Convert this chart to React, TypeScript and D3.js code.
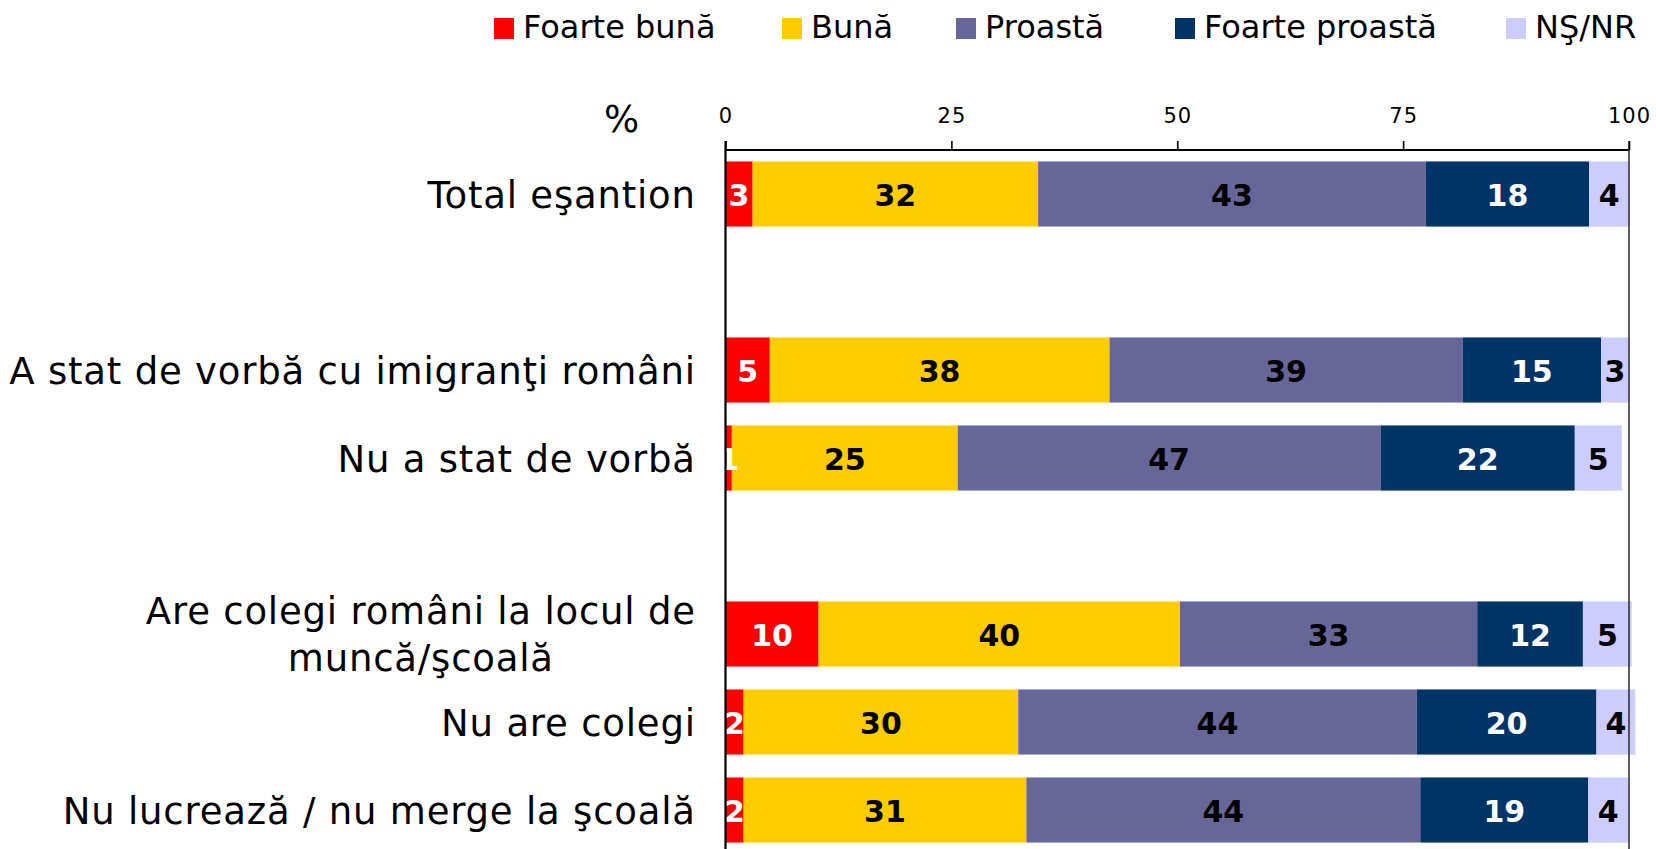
import React, { useEffect, useRef } from "react";
import * as d3 from "d3";

const slotKeys = ["total", "gap1", "stat", "nustat", "gap2", "colegi", "nucolegi", "nulucreaza"];
const rowKeys = ["total", "stat", "nustat", "colegi", "nucolegi", "nulucreaza"];
const rowLabels: string[][] = [
  ["Total eşantion"],
  ["A stat de vorbă cu imigranţi români"],
  ["Nu a stat de vorbă"],
  ["Are colegi români la locul de", "muncă/şcoală"],
  ["Nu are colegi"],
  ["Nu lucrează / nu merge la şcoală"],
];

const seriesNames = ["Foarte bună", "Bună", "Proastă", "Foarte proastă", "NŞ/NR"];
const seriesColors = ["#FF0000", "#FFCC00", "#666699", "#003366", "#CCCCFF"];
const labelColors = ["#FFFFFF", "#000000", "#000000", "#FFFFFF", "#000000"];

const foarteBuna = [3.0, 4.9, 0.7, 10.3, 2.0, 2.0];
const buna = [31.6, 37.6, 25.0, 40.0, 30.4, 31.3];
const proasta = [42.9, 39.1, 46.8, 32.9, 44.1, 43.6];
const foarteProasta = [18.1, 15.3, 21.5, 11.7, 19.9, 18.6];
const nsnr = [4.4, 3.1, 5.2, 5.4, 4.3, 4.4];

const tickValues = [0, 25, 50, 75, 100];

const W = 1656;
const H = 849;
const FONT = "'DejaVu Sans', Verdana, sans-serif";
const LS = 0.8;

export default function App() {
  const ref = useRef<SVGSVGElement | null>(null);

  useEffect(() => {
    const svg = d3.select(ref.current);
    svg.selectAll("*").remove();

    const seriesValues = [foarteBuna, buna, proasta, foarteProasta, nsnr];
    const table = rowKeys.map((k, i) => {
      const o: any = { key: k };
      seriesNames.forEach((s, j) => (o[s] = seriesValues[j][i]));
      return o;
    });
    const stacked = d3.stack<any>().keys(seriesNames)(table);

    const x = d3.scaleLinear().domain([0, 100]).range([725.5, 1629]);
    const y = d3
      .scaleBand<string>()
      .domain(slotKeys)
      .range([150, 854])
      .paddingInner(0.26)
      .paddingOuter(0.13);
    const bw = y.bandwidth();

    // bars
    stacked.forEach((layer, j) => {
      const g = svg.append("g");
      g.selectAll("rect")
        .data(layer)
        .join("rect")
        .attr("x", (d: any) => x(d[0]))
        .attr("width", (d: any) => x(d[1]) - x(d[0]))
        .attr("y", (d: any) => y(d.data.key)!)
        .attr("height", bw)
        .attr("fill", seriesColors[j]);
    });

    // value labels
    stacked.forEach((layer, j) => {
      const g = svg.append("g");
      g.selectAll("text")
        .data(layer)
        .join("text")
        .attr("x", (d: any) => (x(d[0]) + x(d[1])) / 2)
        .attr("y", (d: any) => y(d.data.key)! + bw / 2 + 12)
        .attr("text-anchor", "middle")
        .attr("font-family", FONT)
        .attr("font-weight", "bold")
        .attr("font-size", 30)
        .attr("fill", labelColors[j])
        .text((d: any) => String(Math.round(d[1] - d[0])));
    });

    // axes frame
    const frame = svg.append("g").attr("stroke", "#000");
    frame
      .append("line")
      .attr("x1", x(0))
      .attr("x2", x(100))
      .attr("y1", 150)
      .attr("y2", 150)
      .attr("stroke-width", 2.2);
    frame
      .append("line")
      .attr("x1", x(0))
      .attr("x2", x(0))
      .attr("y1", 141)
      .attr("y2", H + 10)
      .attr("stroke-width", 2.2);
    frame
      .append("line")
      .attr("x1", x(100))
      .attr("x2", x(100))
      .attr("y1", 141)
      .attr("y2", H + 10)
      .attr("stroke", "#333")
      .attr("stroke-width", 1.6);

    // top axis ticks and labels
    const axis = d3
      .axisTop(x)
      .tickValues(tickValues)
      .tickSize(9)
      .tickSizeOuter(0)
      .tickFormat((d) => String(d));
    const ag = svg.append("g").attr("transform", "translate(0,150)").call(axis);
    ag.select(".domain").remove();
    ag.selectAll(".tick line").attr("stroke", "#000").attr("stroke-width", 1.6);
    ag.selectAll(".tick text")
      .attr("font-family", FONT)
      .attr("font-size", 21)
      .attr("letter-spacing", 1)
      .attr("fill", "#000")
      .attr("dy", null)
      .attr("y", -27);

    // % sign
    svg
      .append("text")
      .attr("x", 604)
      .attr("y", 132)
      .attr("font-family", FONT)
      .attr("font-size", 37)
      .text("%");

    // category labels
    const rightX = 695 + LS;
    rowKeys.forEach((k, i) => {
      const lines = rowLabels[i];
      const cy = y(k)! + bw / 2;
      if (lines.length === 1) {
        svg
          .append("text")
          .attr("x", rightX)
          .attr("y", cy + 13.5)
          .attr("text-anchor", "end")
          .attr("font-family", FONT)
          .attr("font-size", 37)
          .attr("letter-spacing", LS)
          .text(lines[0]);
      } else {
        const t1 = svg
          .append("text")
          .attr("x", rightX)
          .attr("y", cy - 23.5 + 13.5)
          .attr("text-anchor", "end")
          .attr("font-family", FONT)
          .attr("font-size", 37)
          .attr("letter-spacing", LS)
          .text(lines[0]);
        const w1 = (t1.node() as SVGTextElement).getComputedTextLength();
        const cx = rightX - w1 / 2;
        t1.attr("text-anchor", "middle").attr("x", cx);
        svg
          .append("text")
          .attr("x", cx)
          .attr("y", cy + 23.5 + 13.5)
          .attr("text-anchor", "middle")
          .attr("font-family", FONT)
          .attr("font-size", 37)
          .attr("letter-spacing", LS)
          .text(lines[1]);
      }
    });

    // legend
    const legendX = [494, 782, 956, 1175, 1506];
    const lg = svg.append("g");
    seriesNames.forEach((s, j) => {
      lg.append("rect")
        .attr("x", legendX[j])
        .attr("y", 18)
        .attr("width", 20)
        .attr("height", 21)
        .attr("fill", seriesColors[j]);
      lg.append("text")
        .attr("x", legendX[j] + 29)
        .attr("y", 37.5)
        .attr("font-family", FONT)
        .attr("font-size", 32)
        .text(s);
    });
  }, []);

  return (
    <div style={{ position: "absolute", left: 0, top: 0 }}>
      <svg ref={ref} width={W} height={H} style={{ display: "block", background: "#fff" }} />
    </div>
  );
}
